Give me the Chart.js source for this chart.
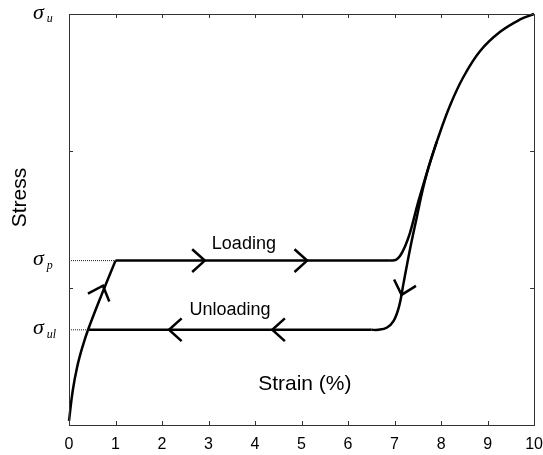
<!DOCTYPE html>
<html>
<head>
<meta charset="utf-8">
<script src="https://cdn.jsdelivr.net/npm/chart.js@4.4.0/dist/chart.umd.min.js"></script>
<style>
  html, body { margin: 0; padding: 0; background: #fff; }
</style>
</head>
<body>
<canvas id="chart" width="543" height="455"></canvas>
<script>
// strain (%) / stress (stress in tick spacings, 0..3)
const strainRise = [0, 0.08, 0.18, 0.29, 0.41, 0.70, 1.00];
const stressRise = [0.03, 0.25, 0.43, 0.57, 0.695, 0.95, 1.20];

const strainPlateau = [1.00, 6.90];
const stressPlateau = [1.20, 1.20];

const strainHarden = [6.90, 7.03, 7.12, 7.22, 7.33, 7.51, 7.73, 7.91, 8.19, 8.48, 8.84, 9.27, 9.70, 10.0];
const stressHarden = [1.20, 1.205, 1.235, 1.30, 1.40, 1.63, 1.88, 2.07, 2.33, 2.54, 2.73, 2.87, 2.96, 3.00];

const strainUnload = [7.91, 7.73, 7.60, 7.48, 7.33, 7.19, 7.10, 6.98, 6.83, 6.65, 6.50];
const stressUnload = [2.07, 1.88, 1.71, 1.52, 1.28, 1.03, 0.87, 0.76, 0.71, 0.695, 0.695];

const strainLower = [6.50, 0.41];
const stressLower = [0.695, 0.695];

// sigma levels on the stress axis
const levelValues = [0.695, 1.20, 3.00];
const levelSubs = ['ul', 'p', 'u'];
const levelGuideEnd = [0.41, 1.00, 0];

const xTickValues = [0, 1, 2, 3, 4, 5, 6, 7, 8, 9, 10];
const yTickValues = [1, 2];

// arrow heads: tip on the path + heading (degrees, screen)
const arrowX = [0.73, 2.92, 5.12, 7.15, 4.37, 2.15];
const arrowY = [1.017, 1.20, 1.20, 0.95, 0.695, 0.695];
const arrowDir = [-70, 0, 0, 106, 180, 180];

const noteText = ['Loading', 'Unloading'];
const noteX = [3.76, 3.46];
const noteY = [1.285, 0.803];

const pts = (xs, ys) => xs.map((x, i) => ({ x: x, y: ys[i] }));

function curve(xs, ys, tension) {
  return {
    data: pts(xs, ys),
    showLine: true,
    borderColor: '#000',
    borderWidth: 2.5,
    pointRadius: 0,
    tension: tension,
    fill: false,
    clip: 6
  };
}

const datasets = [
  curve(strainRise, stressRise, 0.4),
  curve(strainPlateau, stressPlateau, 0),
  curve(strainHarden, stressHarden, 0.4),
  curve(strainUnload, stressUnload, 0.4),
  curve(strainLower, stressLower, 0)
];
// dotted guides from the axis to the curve
levelValues.forEach((v, i) => {
  if (!levelGuideEnd[i]) return;
  datasets.push({
    data: pts([0, levelGuideEnd[i]], [v, v]),
    showLine: true,
    borderColor: '#222',
    borderWidth: 1,
    borderDash: [1, 1],
    pointRadius: 0,
    tension: 0
  });
});

const decor = {
  id: 'decor',
  afterDatasetsDraw(chart) {
    const ctx = chart.ctx;
    const a = chart.chartArea;
    const xs = chart.scales.x, ys = chart.scales.y;
    ctx.save();

    // arrow heads
    ctx.strokeStyle = '#000';
    ctx.lineWidth = 2.5;
    ctx.lineJoin = 'miter';
    arrowX.forEach((v, i) => {
      const px = xs.getPixelForValue(v), py = ys.getPixelForValue(arrowY[i]);
      const t = arrowDir[i] * Math.PI / 180, h = 42 * Math.PI / 180, L = 17;
      ctx.beginPath();
      ctx.moveTo(px - L * Math.cos(t - h), py - L * Math.sin(t - h));
      ctx.lineTo(px, py);
      ctx.lineTo(px - L * Math.cos(t + h), py - L * Math.sin(t + h));
      ctx.stroke();
    });

    // frame and inward ticks
    ctx.strokeStyle = '#333';
    ctx.lineWidth = 1;
    ctx.strokeRect(Math.round(a.left) + 0.5, Math.round(a.top) + 0.5,
      Math.round(a.right - a.left), Math.round(a.bottom - a.top));
    ctx.beginPath();
    xTickValues.slice(1, -1).forEach(v => {
      const px = Math.round(xs.getPixelForValue(v)) + 0.5;
      ctx.moveTo(px, a.bottom); ctx.lineTo(px, a.bottom - 4);
      ctx.moveTo(px, a.top); ctx.lineTo(px, a.top + 4);
    });
    yTickValues.forEach(v => {
      const py = Math.round(ys.getPixelForValue(v)) + 0.5;
      ctx.moveTo(a.left, py); ctx.lineTo(a.left + 4, py);
      ctx.moveTo(a.right, py); ctx.lineTo(a.right - 4, py);
    });
    ctx.stroke();

    // sigma labels
    ctx.fillStyle = '#000';
    ctx.textAlign = 'left';
    ctx.textBaseline = 'alphabetic';
    levelValues.forEach((v, i) => {
      const py = ys.getPixelForValue(v);
      ctx.font = 'italic 22px "Liberation Serif"';
      ctx.fillText('\u03c3', 33, py + 4.5);
      const w = ctx.measureText('\u03c3').width;
      ctx.font = 'italic 12px "Liberation Serif"';
      ctx.fillText(levelSubs[i], 33 + w + 3, py + 8);
    });

    // path notes
    ctx.font = '18px "Liberation Sans"';
    ctx.textAlign = 'center';
    noteText.forEach((s, i) => {
      ctx.fillText(s, xs.getPixelForValue(noteX[i]), ys.getPixelForValue(noteY[i]));
    });

    // axis titles
    ctx.font = '21px "Liberation Sans"';
    ctx.textBaseline = 'middle';
    ctx.fillText('Strain (%)', xs.getPixelForValue(5.07), ys.getPixelForValue(0.30));
    ctx.translate(20, ys.getPixelForValue(1.66));
    ctx.rotate(-Math.PI / 2);
    ctx.fillText('Stress', 0, 0);
    ctx.restore();
  }
};

new Chart(document.getElementById('chart'), {
  type: 'scatter',
  data: { datasets: datasets },
  options: {
    responsive: false,
    animation: false,
    layout: { padding: { left: 69, right: 0, top: 14, bottom: 0 } },
    plugins: { legend: { display: false }, tooltip: { enabled: false } },
    scales: {
      x: {
        type: 'linear',
        min: 0,
        max: 10,
        afterBuildTicks: (s) => { s.ticks = xTickValues.map(v => ({ value: v })); },
        afterFit: (s) => { s.height = 30; },
        grid: { display: false, drawTicks: false },
        border: { display: false },
        // padding 0 so no extra room is reserved on the right; the tall line box moves labels down
        ticks: { color: '#000', padding: 0, font: { family: 'Liberation Sans', size: 16, lineHeight: 2.45 } }
      },
      y: {
        type: 'linear',
        min: 0,
        max: 3,
        display: false
      }
    }
  },
  plugins: [decor]
});
</script>
</body>
</html>
